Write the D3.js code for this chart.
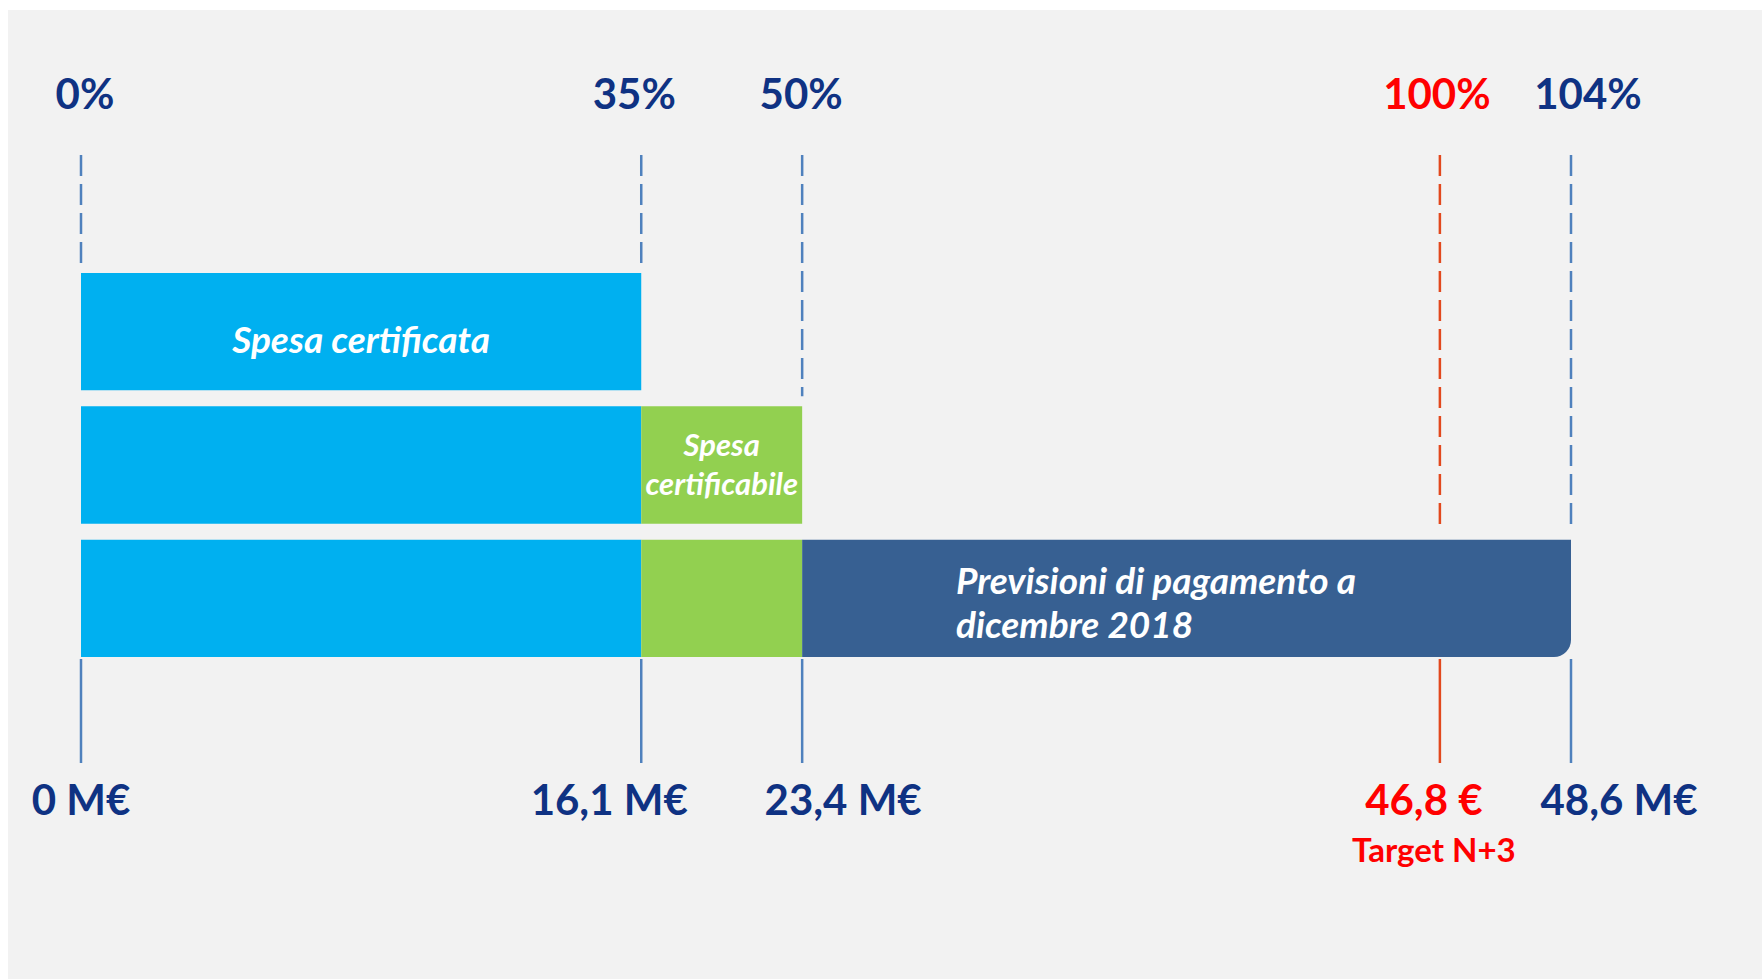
<!DOCTYPE html>
<html>
<head>
<meta charset="utf-8">
<script src="https://cdn.jsdelivr.net/npm/d3@7"></script>
<style>
	body{margin:0;background:#fff;}
	svg text{font-family:Lato, "Open Sans", sans-serif;font-weight:700;}
</style>
</head>
<body>
<svg id="chart"></svg>
<script>
// rows of the chart and the three stacked series (M€)
const rows = ['Spesa certificata', 'Spesa certificabile', 'Previsioni di pagamento a dicembre 2018'];
const seriesKeys = ['certificata', 'certificabile', 'previsioni'];
const certificata = [16.1, 16.1, 16.1];
const certificabile = [0, 7.3, 7.3];
const previsioni = [0, 0, 25.2];
const seriesLabels = [['Spesa certificata'], ['Spesa', 'certificabile'], ['Previsioni di pagamento a', 'dicembre 2018']];

// reference marks on the axis
const stopValues = [0, 16.1, 23.4, 46.8, 48.6];
const stopPct = ['0%', '35%', '50%', '100%', '104%'];
const stopLabels = ['0 M€', '16,1 M€', '23,4 M€', '46,8 €', '48,6 M€'];
const stopNotes = ['', '', '', 'Target N+3', ''];
const stopTarget = [false, false, false, true, false];

// layout (schematic axis: where each stop sits, as a share of the plot width)
const W = 1762, H = 979;
const plot = {left: 81, right: 1571, top: 273, bottom: 657};
const stopFrac = [0, 0.376, 0.484, 0.912, 1];
const pctNudge = [4, -7, -1, -3, 17];
const labelNudge = [0, -32, 41, -16, 48];
const noteNudge = [0, 0, 0, -6, 0];
const seriesColors = ['#00b0f0', '#92d050', '#376092'];
const seriesText = [
	{size: 37, lh: 0, dy: 8, anchor: 'middle'},
	{size: 31, lh: 39, dy: -1, anchor: 'middle'},
	{size: 37, lh: 44, dy: 4, anchor: 'start', inset: 0.2}
];
const navy = '#0f3283', red = '#ff0000';
const guideBlue = '#4f81bd', guideRed = '#e2481d';

function rightRounded(x, y, w, h, r){
	// rect with only bottom-right corner rounded
	return `M${x},${y}H${x+w}V${y+h-r}A${r},${r} 0 0 1 ${x+w-r},${y+h}H${x}Z`;
}

function draw(){
	var svg = d3.select('#chart').attr('width', W).attr('height', H);

	svg.append('rect').attr('x', 8).attr('y', 10)
		.attr('width', W - 8).attr('height', H - 10).attr('fill', '#f2f2f2');

	var x = d3.scaleLinear()
		.domain(stopValues)
		.range(stopFrac.map(function(f){ return plot.left + f * (plot.right - plot.left); }));
	var y = d3.scaleBand().domain(d3.range(rows.length))
		.range([plot.top, plot.bottom]).paddingInner(0.12);

	var table = rows.map(function(r, i){
		return {row: i, certificata: certificata[i], certificabile: certificabile[i], previsioni: previsioni[i]};
	});
	var stacked = d3.stack().keys(seriesKeys)(table);
	var totals = table.map(function(d){ return d.certificata + d.certificabile + d.previsioni; });

	//dashed guides from the % labels down to the first row that reaches the stop
	var guides = svg.append('g').attr('class', 'guides');
	stopValues.forEach(function(v, i){
		var stopRow = totals.findIndex(function(t){ return t >= v - 1e-9; });
		guides.append('line')
			.attr('x1', x(v)).attr('x2', x(v))
			.attr('y1', 155).attr('y2', y(stopRow) - 10)
			.attr('stroke', stopTarget[i] ? guideRed : guideBlue)
			.attr('stroke-width', 2.5)
			.attr('stroke-dasharray', '21,8');
		guides.append('line')
			.attr('x1', x(v)).attr('x2', x(v))
			.attr('y1', y(rows.length - 1) + y.bandwidth() + 2).attr('y2', 763)
			.attr('stroke', stopTarget[i] ? guideRed : guideBlue)
			.attr('stroke-width', 2.5);
	});

	//bars
	var series = svg.selectAll('g.series').data(stacked).enter()
		.append('g').attr('class', 'series')
		.attr('fill', function(d, i){ return seriesColors[i]; });

	series.selectAll('path').data(function(d){ return d.filter(function(s){ return s[1] > s[0]; }); })
		.enter().append('path')
		.attr('d', function(s){
			var x0 = x(s[0]), w = x(s[1]) - x0, r = s.data.row;
			var last = s[1] >= totals[r] - 1e-9 && r == rows.length - 1;
			return rightRounded(x0, y(r), w, y.bandwidth(), last ? 17 : 0);
		});

	//series labels, on the row where each series first appears
	stacked.forEach(function(s, i){
		var seg = s[i], st = seriesText[i];
		var x0 = x(seg[0]), x1 = x(seg[1]);
		var lines = seriesLabels[i];
		var cy = y(i) + y.bandwidth() / 2 - (lines.length - 1) * st.lh / 2 + st.size * 0.36 + st.dy;
		var tx = st.anchor == 'middle' ? (x0 + x1) / 2 : x0 + st.inset * (x1 - x0);
		var t = svg.append('text')
			.attr('x', tx).attr('y', cy)
			.attr('text-anchor', st.anchor)
			.attr('font-size', st.size)
			.attr('font-style', 'italic')
			.attr('fill', '#fff');
		lines.forEach(function(l, j){
			t.append('tspan').attr('x', tx).attr('dy', j == 0 ? 0 : st.lh).text(l);
		});
	});

	//top % labels
	svg.selectAll('text.pct').data(stopValues).enter()
		.append('text').attr('class', 'pct')
		.attr('x', function(v, i){ return x(v) + pctNudge[i]; })
		.attr('y', 109)
		.attr('text-anchor', 'middle')
		.attr('font-size', 42)
		.attr('fill', function(v, i){ return stopTarget[i] ? red : navy; })
		.text(function(v, i){ return stopPct[i]; });

	//bottom value labels
	svg.selectAll('text.val').data(stopValues).enter()
		.append('text').attr('class', 'val')
		.attr('x', function(v, i){ return x(v) + labelNudge[i]; })
		.attr('y', 815)
		.attr('text-anchor', 'middle')
		.attr('font-size', 42)
		.attr('fill', function(v, i){ return stopTarget[i] ? red : navy; })
		.text(function(v, i){ return stopLabels[i]; });

	svg.selectAll('text.note').data(stopValues).enter()
		.append('text').attr('class', 'note')
		.attr('x', function(v, i){ return x(v) + noteNudge[i]; })
		.attr('y', 862)
		.attr('text-anchor', 'middle')
		.attr('font-size', 33)
		.attr('fill', function(v, i){ return stopTarget[i] ? red : navy; })
		.text(function(v, i){ return stopNotes[i]; });
}

draw();
</script>
</body>
</html>
